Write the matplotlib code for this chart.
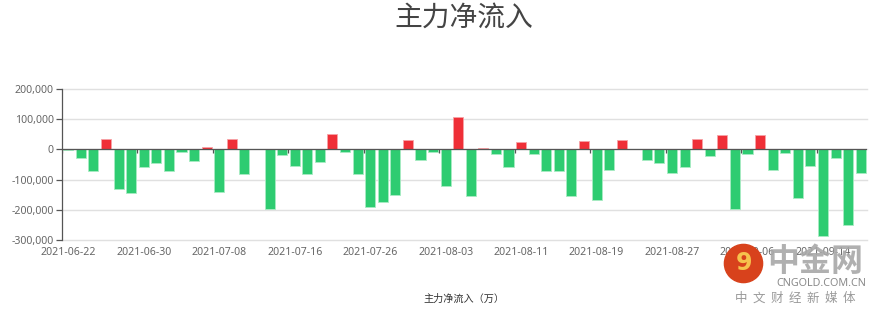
import matplotlib.pyplot as plt
from matplotlib.lines import Line2D

plt.rcParams['font.family'] = ['Noto Sans', 'Noto Sans CJK SC', 'DejaVu Sans']

# 交易日（2021-06-22 ~ 2021-09-17）
dates = [
    "2021-06-22", "2021-06-23", "2021-06-24", "2021-06-25", "2021-06-28", "2021-06-29",
    "2021-06-30", "2021-07-01", "2021-07-02", "2021-07-05", "2021-07-06", "2021-07-07",
    "2021-07-08", "2021-07-09", "2021-07-12", "2021-07-13", "2021-07-14", "2021-07-15",
    "2021-07-16", "2021-07-19", "2021-07-20", "2021-07-21", "2021-07-22", "2021-07-23",
    "2021-07-26", "2021-07-27", "2021-07-28", "2021-07-29", "2021-07-30", "2021-08-02",
    "2021-08-03", "2021-08-04", "2021-08-05", "2021-08-06", "2021-08-09", "2021-08-10",
    "2021-08-11", "2021-08-12", "2021-08-13", "2021-08-16", "2021-08-17", "2021-08-18",
    "2021-08-19", "2021-08-20", "2021-08-23", "2021-08-24", "2021-08-25", "2021-08-26",
    "2021-08-27", "2021-08-30", "2021-08-31", "2021-09-01", "2021-09-02", "2021-09-03",
    "2021-09-06", "2021-09-07", "2021-09-08", "2021-09-09", "2021-09-10", "2021-09-13",
    "2021-09-14", "2021-09-15", "2021-09-16", "2021-09-17",
]

# 主力净流入（万）
net_inflow = [
    -1500, -27000, -73000, 35000, -132000, -146000,
    -58000, -46000, -73000, -10000, -40000, 8000,
    -142000, 33000, -83000, 500, -199000, -17000,
    -54000, -80000, -42000, 52000, -9000, -83000,
    -191000, -175000, -152000, 32000, -34000, -9000,
    -122000, 106000, -153000, 3000, -16000, -58000,
    25000, -16000, -71000, -73000, -153000, 29000,
    -167000, -67000, 31000, 0, -34000, -46000,
    -79000, -58000, 35000, -23000, 49000, -199000,
    -15000, 48000, -67000, -11000, -162000, -56000,
    -286000, -27000, -249000, -79000,
]

y_ticks = [200000, 100000, 0, -100000, -200000, -300000]
label_step = 6

RED = "#ef2f37"
GREEN = "#2ecc71"

fig = plt.figure(figsize=(8.81, 3.15), dpi=100)
ax = fig.add_axes([62 / 881, 1 - 240 / 315, (867 - 62) / 881, (240 - 89) / 315])

x = list(range(len(dates)))
colors = [RED if v > 0 else GREEN for v in net_inflow]
edges = ["#f7a3a6" if v > 0 else "#a8ecc3" for v in net_inflow]
ax.bar(x, net_inflow, width=0.8, color=colors, edgecolor=edges, linewidth=0.6, zorder=3)

ax.set_xlim(-0.5, len(dates) - 0.5)
ax.set_ylim(-300000, 200000)
ax.set_yticks(y_ticks)
ax.set_yticklabels([f"{v:,}" for v in y_ticks])
ax.yaxis.grid(True, color="#e0e0e0", linewidth=1, zorder=0)
for gl in ax.get_ygridlines():
    gl.set_clip_on(False)

# 零轴和刻度
ax.axhline(0, color="#555555", linewidth=0.9, zorder=4)
bounds = [i - 0.5 for i in range(0, len(dates), label_step)]
ax.vlines(bounds, -13000, 0, color="#555555", linewidth=0.9, zorder=4)

ax.set_xticks(x[::label_step])
ax.set_xticklabels(dates[::label_step])
ax.tick_params(axis="x", length=0, pad=5, labelsize=7.6, labelcolor="#666666")
ax.tick_params(axis="y", length=4, width=0.9, color="#555555", pad=2,
               labelsize=7.6, labelcolor="#666666")

for s in ["top", "right", "bottom"]:
    ax.spines[s].set_visible(False)
ax.spines["left"].set_color("#555555")
ax.spines["left"].set_linewidth(0.9)

fig.text(464 / 881, 1 - 18 / 315, "主力净流入", ha="center", va="center",
         fontsize=20, color="#444444", family=["Noto Sans CJK SC", "DejaVu Sans"])
fig.text(464 / 881, 1 - 299 / 315, "主力净流入（万）", ha="center", va="center",
         fontsize=7.3, color="#333333", family=["Noto Sans CJK SC", "DejaVu Sans"])

# 水印
fig.add_artist(Line2D([743 / 881], [1 - 263 / 315], marker="o", markersize=27.5,
                      color="#d8421c", transform=fig.transFigure, zorder=10))
fig.text(744 / 881, 1 - 263 / 315, "9", ha="center", va="center", fontsize=17,
         fontweight="bold", color="#f6c24c", zorder=11, family=["DejaVu Sans"])
fig.text(815 / 881, 1 - 262 / 315, "中金网", ha="center", va="center", fontsize=23,
         fontweight="bold", color="#a8a8a8", alpha=0.9, zorder=10,
         family=["Noto Sans CJK SC", "DejaVu Sans"])
fig.text(821 / 881, 1 - 283 / 315, "CNGOLD.COM.CN", ha="center", va="center",
         fontsize=7.8, color="#8a8a8a", zorder=10)
fig.text(795 / 881, 1 - 298 / 315, "中  文  财  经  新  媒  体", ha="center", va="center",
         fontsize=9, color="#9a9a9a", zorder=10,
         family=["Noto Sans CJK SC", "DejaVu Sans"])

fig.savefig("out.png", dpi=100)
